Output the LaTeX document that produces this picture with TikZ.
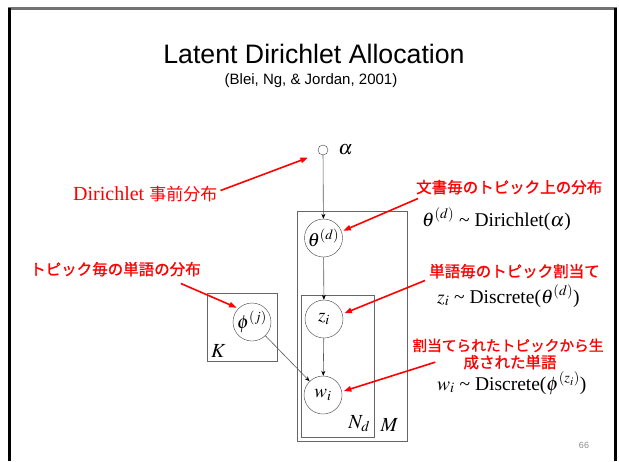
\documentclass[tikz,border=0pt]{standalone}
\usepackage{mathptmx}
\usepackage{fontspec}
\setmainfont{Liberation Serif}
\setsansfont{Liberation Sans}
\newfontfamily\jpfont[FakeBold=1.2]{Noto Sans CJK JP}
\newfontfamily\jpplain{Noto Sans CJK JP}
\usetikzlibrary{arrows.meta,positioning}
\colorlet{notered}{red}
\colorlet{plategray}{black!60}

\begin{document}
\begin{tikzpicture}[x=1pt, y=-1pt,
  rv/.style={circle, draw=black!75, minimum size=38pt, inner sep=0pt,
             font=\fontsize{19}{20}\selectfont},
  plate/.style={rectangle, draw=plategray, inner sep=0pt},
  edge/.style={draw=black!65, line width=0.6pt,
               -{Stealth[length=5pt,width=4pt,color=black]}},
  note/.style={text=notered, inner sep=0pt,
               font=\jpfont\fontsize{15.5}{18}\selectfont},
  noteline/.style={draw=notered, line width=1.6pt, shorten >=2pt,
                   -{Triangle[length=7.5pt,width=5.5pt]}},
  eqn/.style={anchor=base west, inner sep=0pt,
              font=\fontsize{19.5}{22}\selectfont}]

\useasboundingbox (0,0) rectangle (619,461);

% slide frame (open at the bottom)
\draw[black!55, line width=2.5pt] (8,8.5) -- (617,8.5);
\draw[line width=3pt] (9.5,461) -- (9.5,7.5);
\draw[line width=3pt] (615.5,461) -- (615.5,7.5);

% title
\node[anchor=base, inner sep=0pt, font=\sffamily\fontsize{26.7}{30}\selectfont]
  (title) at (314,63) {Latent Dirichlet Allocation};
\node[anchor=base, inner sep=0pt, font=\sffamily\fontsize{15}{18}\selectfont]
  (cite) at (311,84) {(Blei, Ng, \& Jordan, 2001)};

% plates
\node[plate, minimum width=110pt, minimum height=230pt] (plateM) at (352,326) {};
\node[plate, minimum width=73pt, minimum height=142pt] (plateN) at (337.5,366) {};
\node[plate, minimum width=70pt, minimum height=68pt] (plateK) at (242,327) {};
\node[anchor=base east, inner sep=0pt, font=\fontsize{20}{20}\selectfont]
  (labM) at ([xshift=-9pt,yshift=10pt]plateM.south east) {$M$};
\node[anchor=base east, inner sep=0pt, font=\fontsize{20}{20}\selectfont]
  (labN) at ([xshift=-4pt,yshift=9pt]plateN.south east) {$N_d$};
\node[anchor=base west, inner sep=0pt, font=\fontsize{20}{20}\selectfont]
  (labK) at ([xshift=4pt,yshift=4pt]plateK.south west) {$K$};

% variables
\node[circle, draw=black!75, minimum size=10pt, inner sep=0pt] (alpha) at (323,150) {};
\node[inner sep=0pt, font=\fontsize{20}{20}\selectfont, right=10pt of alpha]
  (alphalbl) {$\alpha$};
\node[rv] (theta) at (323.5,238) {$\theta^{(d)}$};
\node[rv] (z) at (324,319) {$z_i$};
\node[rv] (w) at (323,395) {$w_i$};
\node[rv] (phi) at (252,322) {$\phi^{(j)}$};

\draw[edge] (alpha) -- (theta);
\draw[edge] (theta) -- (z);
\draw[edge] (z) -- (w);
\draw[edge] (phi) -- (w);

% notes
\node[anchor=base west, inner sep=0pt, text=notered] (priorlbl) at (73,200)
  {\fontsize{20}{22}\selectfont Dirichlet {\jpplain\fontsize{17}{20}\selectfont 事前分布}};
\draw[noteline] ([xshift=3pt,yshift=3pt]priorlbl.east) -- ([xshift=-8pt,yshift=-7pt]alpha.west);

\node[note, anchor=base west] (thetalbl) at (416,193) {文書毎のトピック上の分布};
\draw[noteline] ([xshift=2pt,yshift=-4pt]thetalbl.south west) -- (theta.20);
\node[eqn] (thetaeq) at (422,226) {$\theta^{(d)}$ \textasciitilde\ Dirichlet($\alpha$)};

\node[note, anchor=base west] (zlbl) at (429,277) {単語毎のトピック割当て};
\draw[noteline] ([xshift=-4pt,yshift=-2pt]zlbl.south west) -- (z.15);
\node[eqn] (zeq) at (437,303) {$z_i$ \textasciitilde\ Discrete($\theta^{(d)}$)};

\node[note, anchor=base, font=\jpfont\fontsize{14.7}{18}\selectfont]
  (wlbl) at (508,351) {割当てられたトピックから生};
\node[note, anchor=base] (wlbltwo) at (510,368) {成された単語};
\draw[noteline] ([xshift=-28pt]wlbltwo.west) -- (w.10);
\node[eqn] (weq) at (437,390) {$w_i$ \textasciitilde\ Discrete($\phi^{(z_i)}$)};

\node[note, anchor=base west] (philbl) at (30,275) {トピック毎の単語の分布};
\draw[noteline] ([xshift=-20pt,yshift=-7pt]philbl.south east) -- (phi.135);

\node[text=black!45, font=\sffamily\fontsize{9}{10}\selectfont] (pagenum) at (584,445) {66};
\end{tikzpicture}
\end{document}
